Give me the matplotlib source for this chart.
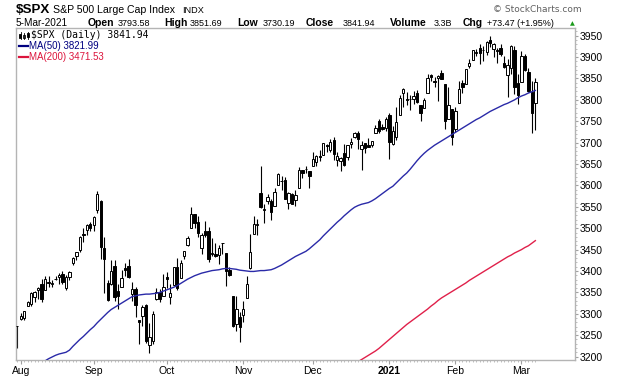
import numpy as np
import pandas as pd
import matplotlib
matplotlib.use('Agg')
import matplotlib.pyplot as plt
from matplotlib.patches import Rectangle
from matplotlib.lines import Line2D

# === Data (S&P 500 daily, Jul 31 2020 - Mar 5 2021) ===
holidays = ['2020-09-07', '2020-11-26', '2020-12-25', '2021-01-01', '2021-01-18', '2021-02-15']
dates = pd.bdate_range('2020-07-31', '2021-03-05', freq='C', holidays=holidays)

opens = [3270.45, 3288.26, 3289.92, 3317.37, 3323.17, 3340.05, 3356.04, 3370.34, 3355.46, 3372.95,
         3368.66, 3380.86, 3387.04, 3392.51, 3360.48, 3386.01, 3418.09, 3435.95, 3449.97, 3485.14,
         3494.69, 3509.73, 3507.44, 3543.76, 3564.74, 3453.60, 3371.88, 3369.82, 3412.56, 3352.70,
         3363.56, 3407.73, 3411.23, 3346.86, 3357.38, 3285.57, 3295.75, 3320.11, 3226.14, 3236.66,
         3333.90, 3350.92, 3341.21, 3385.87, 3338.94, 3367.27, 3408.74, 3384.56, 3434.28, 3459.67,
         3500.02, 3534.01, 3515.47, 3453.72, 3493.50, 3493.66, 3439.38, 3439.91, 3438.50, 3464.90,
         3441.42, 3403.15, 3342.48, 3277.17, 3293.59, 3296.20, 3336.25, 3406.46, 3485.74, 3508.34,
         3583.04, 3543.26, 3563.22, 3562.67, 3552.57, 3600.16, 3610.31, 3612.09, 3559.41, 3579.31,
         3566.82, 3594.52, 3635.50, 3638.55, 3634.18, 3645.87, 3653.78, 3668.28, 3670.94, 3694.73,
         3683.05, 3705.98, 3659.13, 3656.08, 3675.27, 3666.41, 3696.25, 3713.65, 3722.39, 3684.28,
         3698.08, 3693.42, 3694.03, 3723.03, 3750.01, 3736.19, 3733.27, 3764.61, 3698.02, 3712.20,
         3764.71, 3815.05, 3803.14, 3801.62, 3802.23, 3814.98, 3788.73, 3781.88, 3816.22, 3857.46,
         3844.24, 3851.68, 3862.96, 3836.83, 3755.75, 3778.05, 3731.17, 3791.84, 3840.27, 3836.66,
         3878.30, 3892.59, 3910.49, 3920.78, 3916.40, 3911.65, 3939.61, 3918.50, 3915.86, 3921.16,
         3885.55, 3857.07, 3873.71, 3915.80, 3839.66, 3842.51, 3903.64, 3863.99, 3818.53, 3793.58]
highs = [3272.17, 3302.73, 3306.84, 3330.77, 3351.03, 3352.54, 3363.29, 3381.01, 3387.89, 3387.24,
         3378.51, 3387.59, 3395.06, 3399.54, 3390.80, 3399.96, 3432.09, 3444.21, 3481.07, 3501.38,
         3509.23, 3514.77, 3528.03, 3588.11, 3564.85, 3479.15, 3379.97, 3424.77, 3425.55, 3368.95,
         3402.93, 3419.48, 3428.92, 3375.17, 3362.27, 3285.57, 3320.31, 3323.35, 3278.70, 3306.88,
         3360.74, 3357.92, 3393.56, 3397.18, 3369.10, 3409.57, 3431.56, 3426.26, 3447.28, 3482.34,
         3549.85, 3534.01, 3527.94, 3489.08, 3515.76, 3502.42, 3476.93, 3464.86, 3460.53, 3466.46,
         3441.42, 3409.51, 3342.48, 3341.05, 3304.93, 3330.14, 3389.49, 3486.25, 3529.05, 3521.58,
         3645.99, 3557.22, 3581.16, 3569.02, 3593.66, 3628.51, 3623.11, 3619.09, 3585.22, 3581.23,
         3589.81, 3642.31, 3635.50, 3644.31, 3634.18, 3678.45, 3670.96, 3682.73, 3699.20, 3697.41,
         3708.45, 3712.39, 3678.49, 3665.91, 3697.61, 3695.29, 3711.27, 3725.12, 3726.70, 3702.90,
         3698.26, 3711.24, 3703.82, 3740.51, 3756.12, 3744.63, 3760.20, 3769.99, 3737.83, 3783.04,
         3811.55, 3826.69, 3817.86, 3810.78, 3820.96, 3823.60, 3788.73, 3804.53, 3859.75, 3861.45,
         3852.31, 3859.23, 3870.90, 3836.83, 3830.50, 3778.05, 3784.32, 3843.09, 3847.51, 3872.42,
         3894.56, 3915.77, 3918.35, 3931.50, 3925.99, 3937.23, 3950.43, 3933.61, 3921.98, 3930.41,
         3902.92, 3895.98, 3928.65, 3925.02, 3861.08, 3914.50, 3906.41, 3874.47, 3843.67, 3851.69]
lows = [3220.26, 3284.53, 3286.37, 3317.37, 3318.14, 3328.72, 3335.44, 3326.44, 3355.46, 3363.35,
        3361.64, 3379.22, 3370.15, 3369.66, 3354.69, 3379.31, 3413.13, 3425.84, 3444.15, 3468.35,
        3484.32, 3493.25, 3494.60, 3535.23, 3427.41, 3349.63, 3329.27, 3366.84, 3329.25, 3310.47,
        3363.56, 3389.25, 3384.45, 3328.82, 3292.40, 3229.10, 3270.95, 3232.57, 3209.45, 3228.44,
        3332.91, 3327.54, 3340.47, 3361.39, 3323.69, 3367.27, 3354.54, 3384.56, 3428.15, 3458.07,
        3499.61, 3500.86, 3480.55, 3440.89, 3480.45, 3419.93, 3435.65, 3433.06, 3415.34, 3440.45,
        3364.86, 3388.71, 3268.89, 3259.82, 3233.94, 3279.74, 3336.25, 3405.17, 3485.74, 3484.34,
        3547.48, 3511.91, 3557.00, 3518.58, 3552.57, 3600.16, 3588.68, 3567.33, 3543.84, 3556.85,
        3552.77, 3594.52, 3617.76, 3629.33, 3594.39, 3645.87, 3644.84, 3657.17, 3670.94, 3678.88,
        3678.83, 3660.54, 3645.18, 3633.40, 3645.84, 3659.62, 3688.57, 3710.87, 3685.84, 3636.48,
        3676.16, 3689.28, 3689.32, 3723.03, 3723.31, 3730.21, 3726.88, 3662.71, 3695.07, 3705.34,
        3764.71, 3783.60, 3789.02, 3776.51, 3791.50, 3792.86, 3749.62, 3780.37, 3816.22, 3845.05,
        3830.41, 3797.16, 3847.78, 3732.48, 3755.75, 3694.12, 3725.62, 3791.84, 3816.68, 3836.66,
        3874.93, 3892.59, 3902.64, 3884.94, 3890.39, 3905.78, 3923.85, 3900.43, 3885.03, 3903.07,
        3874.71, 3805.59, 3859.60, 3814.04, 3789.54, 3842.51, 3868.57, 3818.86, 3723.34, 3730.19]
closes = [3271.12, 3294.61, 3306.51, 3327.77, 3349.16, 3351.28, 3360.47, 3333.69, 3380.35, 3373.43,
          3372.85, 3381.99, 3389.78, 3374.85, 3385.51, 3397.16, 3431.28, 3443.62, 3478.73, 3484.55,
          3508.01, 3500.31, 3526.65, 3580.84, 3455.06, 3426.96, 3331.84, 3398.96, 3339.19, 3340.97,
          3383.54, 3401.20, 3385.49, 3357.01, 3319.47, 3281.06, 3315.57, 3236.92, 3246.59, 3298.46,
          3351.60, 3335.47, 3363.00, 3380.80, 3348.42, 3408.60, 3360.97, 3419.44, 3446.83, 3477.14,
          3534.22, 3511.93, 3488.67, 3483.34, 3483.81, 3426.92, 3443.12, 3435.56, 3453.49, 3465.39,
          3400.97, 3390.68, 3271.03, 3310.11, 3269.96, 3310.24, 3369.16, 3443.44, 3510.45, 3509.44,
          3550.50, 3545.53, 3572.66, 3537.01, 3585.15, 3626.91, 3609.53, 3567.79, 3581.87, 3557.54,
          3577.59, 3635.41, 3629.65, 3638.35, 3621.63, 3662.45, 3669.01, 3666.72, 3699.12, 3691.96,
          3702.25, 3672.82, 3668.10, 3663.46, 3647.49, 3694.62, 3701.17, 3722.48, 3709.41, 3694.92,
          3687.26, 3690.01, 3703.06, 3735.36, 3727.04, 3732.04, 3756.07, 3700.65, 3726.86, 3748.14,
          3803.79, 3824.68, 3799.61, 3801.19, 3809.84, 3795.54, 3768.25, 3798.91, 3851.85, 3853.07,
          3841.47, 3855.36, 3849.62, 3750.77, 3787.38, 3714.24, 3773.86, 3826.31, 3830.17, 3871.74,
          3886.83, 3915.59, 3911.23, 3909.88, 3916.38, 3934.83, 3932.59, 3931.33, 3913.97, 3906.71,
          3876.50, 3881.37, 3925.43, 3829.34, 3811.15, 3901.82, 3870.29, 3819.72, 3768.47, 3841.94]

# moving averages
ma50_from = '2020-08-12'
ma50 = [3190, 3195, 3199, 3203, 3206, 3208, 3210, 3215, 3224, 3232, 3240, 3247, 3255, 3263, 3270,
        3279, 3287, 3295, 3303, 3310, 3315, 3320, 3325, 3330, 3335, 3340, 3342, 3344, 3345, 3346,
        3346, 3347, 3348, 3350, 3353, 3356, 3359, 3362, 3366, 3371, 3376, 3381, 3385, 3389, 3392,
        3395, 3397, 3399, 3401, 3402, 3403, 3405, 3406, 3406, 3405, 3404, 3402, 3401, 3400, 3399,
        3399, 3400, 3401, 3401, 3402, 3403, 3406, 3410, 3414, 3419, 3424, 3429, 3434, 3438, 3442,
        3446, 3452, 3459, 3466, 3473, 3482, 3490, 3498, 3506, 3514, 3521, 3529, 3536, 3543, 3549,
        3553, 3556, 3558, 3560, 3564, 3569, 3575, 3581, 3587, 3593, 3598, 3606, 3614, 3622, 3629,
        3638, 3648, 3658, 3667, 3675, 3682, 3688, 3694, 3699, 3704, 3709, 3714, 3719, 3724, 3729,
        3734, 3739, 3744, 3749, 3754, 3758, 3763, 3768, 3773, 3777, 3781, 3785, 3789, 3792, 3796,
        3800, 3805, 3809, 3812, 3816, 3819, 3822]
ma200_from = '2020-12-18'
ma200 = [3188, 3193, 3198, 3203, 3208, 3213, 3219, 3226, 3233, 3240, 3247, 3254, 3261, 3268, 3275,
         3281, 3287, 3293, 3299, 3305, 3311, 3318, 3324, 3331, 3337, 3342, 3347, 3352, 3357, 3362,
         3367, 3372, 3378, 3383, 3388, 3393, 3398, 3403, 3408, 3413, 3418, 3423, 3428, 3433, 3437,
         3442, 3446, 3450, 3455, 3459, 3465, 3471]

month_labels = ['Aug', 'Sep', 'Oct', 'Nov', 'Dec', '2021', 'Feb', 'Mar']
y_ticks = list(range(3200, 3951, 50))

# === Figure ===
W, H = 620, 376
fig = plt.figure(figsize=(W / 100, H / 100), dpi=100)
ax = fig.add_axes([16 / W, 16 / H, 559 / W, 332 / H])

def fx(x, y):
    return x / W, 1 - y / H

x = np.arange(len(dates))
o = np.array(opens); h = np.array(highs); l = np.array(lows); c = np.array(closes)
up = c >= o

ax.vlines(x, l, h, color='black', lw=0.8, zorder=2)
body_bot = np.minimum(o, c)
body_h = np.maximum(np.abs(c - o), 1.0)
ax.bar(x, body_h, bottom=body_bot, width=0.68, color=np.where(up, 'white', 'black'),
       edgecolor='black', linewidth=0.7, zorder=3)

i50 = dates.get_loc(pd.Timestamp(ma50_from))
i200 = dates.get_loc(pd.Timestamp(ma200_from))
ax.plot(np.arange(i50, i50 + len(ma50)), ma50, color='#2a2aa8', lw=1.0, zorder=4)
ax.plot(np.arange(i200, i200 + len(ma200)), ma200, color='#e0204a', lw=1.0, zorder=4)

ax.set_xlim(-0.37, 160.4)
ax.set_ylim(3192, 3968)

# axes styling
for s in ax.spines.values():
    s.set_color('#b4b4b4'); s.set_linewidth(1.0)
ax.yaxis.tick_right()
ax.set_yticks(y_ticks)
ax.set_yticklabels([str(v) for v in y_ticks], fontsize=7.5, family='Liberation Sans')
ax.set_yticks(np.arange(3200, 3968, 10), minor=True)
ax.tick_params(axis='y', which='major', length=2.5, pad=1, color='#a0a0a0')
ax.tick_params(axis='y', which='minor', length=1.5, color='#b4b4b4')

month_idx = [i for i in range(1, len(dates)) if dates[i].month != dates[i - 1].month]
ax.set_xticks(month_idx)
ax.set_xticklabels(month_labels, fontsize=7.5, family='Liberation Sans')
ax.get_xticklabels()[5].set_fontweight('bold')
ax.set_xticks(x, minor=True)
ax.tick_params(axis='x', which='major', length=3, pad=1, color='#a0a0a0')
ax.tick_params(axis='x', which='minor', length=1.5, color='#b4b4b4')

# === Header ===
fig.text(*fx(16, 13), '$SPX', fontsize=9.6, fontweight='bold', family='Liberation Sans', va='baseline')
fig.text(*fx(53, 13), 'S&P 500 Large Cap Index', fontsize=7.6, family='Liberation Sans', va='baseline')
fig.text(*fx(182, 13), 'INDX', fontsize=6.6, family='Liberation Sans', va='baseline')
fig.text(*fx(493, 11.5), '\u00a9 StockCharts.com', fontsize=6.5, color='#606060', va='baseline')

fig.text(*fx(16, 25.5), '5-Mar-2021', fontsize=7.2, family='Liberation Sans', va='baseline')
hdr = [(88, 'Open', True), (118, '3793.58', False),
       (164, 'High', True), (190, '3851.69', False), (237, 'Low', True), (263, '3730.19', False),
       (306, 'Close', True), (343, '3841.94', False), (390, 'Volume', True), (434, '3.3B', False),
       (463, 'Chg', True), (487, '+73.47 (+1.95%)', False)]
for px, t, b in hdr:
    fig.text(*fx(px, 25.5), t, fontsize=7.5 if b else 6.5, fontweight='bold' if b else 'normal',
             family='Liberation Sans', va='baseline')
fig.text(*fx(570, 25.5), '\u25b2', fontsize=4.5, color='#1a9a1a', va='baseline')

# === Legend ===
for (x0, y0, w, hh, fc) in [(19.5, 33.5, 2, 4, 'black'), (23, 34.5, 2, 3, 'white'), (26.5, 33, 2, 4, 'black')]:
    fig.add_artist(Rectangle(fx(x0, y0 + hh), w / W, hh / H, facecolor=fc, edgecolor='black',
                             lw=0.6, transform=fig.transFigure))
    fig.add_artist(Line2D([(x0 + w / 2) / W] * 2, [1 - (y0 - 1.5) / H, 1 - (y0 + hh + 1.5) / H],
                          color='black', lw=0.6, transform=fig.transFigure))
fig.text(*fx(31, 38), '$SPX (Daily) 3841.94', fontsize=7.0, family='DejaVu Sans Mono',
         color='black', va='baseline')
fig.add_artist(Line2D([19.3 / W, 28.3 / W], [1 - 46 / H] * 2, color='#000080', lw=1.6,
                      transform=fig.transFigure))
fig.text(*fx(29, 49), 'MA(50) 3821.99', fontsize=7.0, family='Liberation Sans',
         color='#000080', va='baseline')
fig.add_artist(Line2D([19.3 / W, 28.3 / W], [1 - 56.7 / H] * 2, color='#dc143c', lw=1.6,
                      transform=fig.transFigure))
fig.text(*fx(29, 59.7), 'MA(200) 3471.53', fontsize=7.0, family='Liberation Sans',
         color='#dc143c', va='baseline')

fig.savefig('out.png', dpi=100)
